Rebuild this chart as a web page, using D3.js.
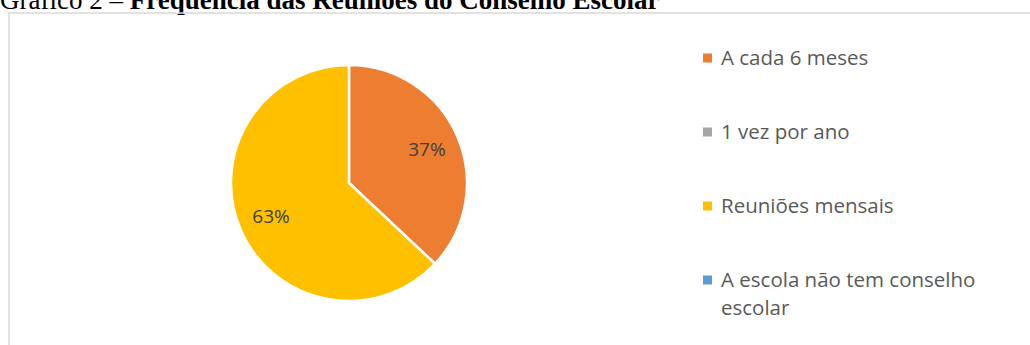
<!DOCTYPE html>
<html>
<head>
<meta charset="utf-8">
<script src="https://cdn.jsdelivr.net/npm/d3@7"></script>
<style>
  body { margin: 0; background: #fff; overflow: hidden; }
</style>
</head>
<body>
<svg id="chart" width="1030" height="345"></svg>
<script>
// values (percent)
const categories = ['A cada 6 meses', '1 vez por ano', 'Reuniões mensais', 'A escola não tem conselho escolar'];
const values = [37, 0, 63, 0];
const colors = ['#ED7D31', '#A5A5A5', '#FFC000', '#5B9BD5'];
const legendLines = [['A cada 6 meses'], ['1 vez por ano'], ['Reuniões mensais'], ['A escola não tem conselho', 'escolar']];

const svg = d3.select('#chart');

// title, cut off at the top like the original
const title = svg.append('text')
    .attr('x', 0)
    .attr('y', 9)
    .style('font-family', '"Liberation Serif", "Times New Roman", serif')
    .style('font-size', '27px')
    .attr('fill', '#000');
title.append('tspan').text('Gráfico 2 – ');
title.append('tspan').style('font-weight', 'bold').text('Frequência das Reuniões do Conselho Escolar');

// chart frame
svg.append('rect')
    .attr('x', 9)
    .attr('y', 13)
    .attr('width', 1040)
    .attr('height', 350)
    .attr('fill', 'none')
    .attr('stroke', '#d9d9d9')
    .attr('stroke-width', 1.5);

const cx = 349, cy = 183, radius = 118;

const color = d3.scaleOrdinal().domain(categories).range(colors);

const pie = d3.pie().sort(null).value((d, i) => values[i]);
const arcs = pie(categories);

const arc = d3.arc().innerRadius(0).outerRadius(radius);
const labelArc = d3.arc().innerRadius(radius * 0.72).outerRadius(radius * 0.72);

const g = svg.append('g').attr('transform', `translate(${cx},${cy})`);

g.selectAll('path')
    .data(arcs.filter(d => d.value > 0))
    .enter()
    .append('path')
    .attr('d', arc)
    .attr('fill', d => color(d.data))
    .attr('stroke', '#fff')
    .attr('stroke-width', 2.5)
    .attr('stroke-linejoin', 'round');

const total = d3.sum(values);
g.selectAll('text.lbl')
    .data(arcs.filter(d => d.value > 0))
    .enter()
    .append('text')
    .attr('class', 'lbl')
    .attr('transform', d => `translate(${labelArc.centroid(d)})`)
    .attr('text-anchor', 'middle')
    .attr('dy', '0.35em')
    .style('font-family', '"Open Sans", sans-serif')
    .style('font-size', '19px')
    .attr('fill', '#404040')
    .text(d => Math.round(d.value / total * 100) + '%');

// legend
const legend = svg.append('g')
    .selectAll('g')
    .data(categories)
    .enter()
    .append('g')
    .attr('transform', (d, i) => `translate(703, ${58 + i * 74})`);

legend.append('rect')
    .attr('x', 0)
    .attr('y', -4.5)
    .attr('width', 9)
    .attr('height', 9)
    .attr('fill', d => color(d));

legend.append('text')
    .style('font-family', '"Open Sans", sans-serif')
    .style('font-size', '20.5px')
    .attr('fill', '#595959')
    .selectAll('tspan')
    .data((d, i) => legendLines[i])
    .enter()
    .append('tspan')
    .attr('x', 18)
    .attr('y', (d, j) => j * 28)
    .attr('dy', '0.35em')
    .text(d => d);
</script>
</body>
</html>
